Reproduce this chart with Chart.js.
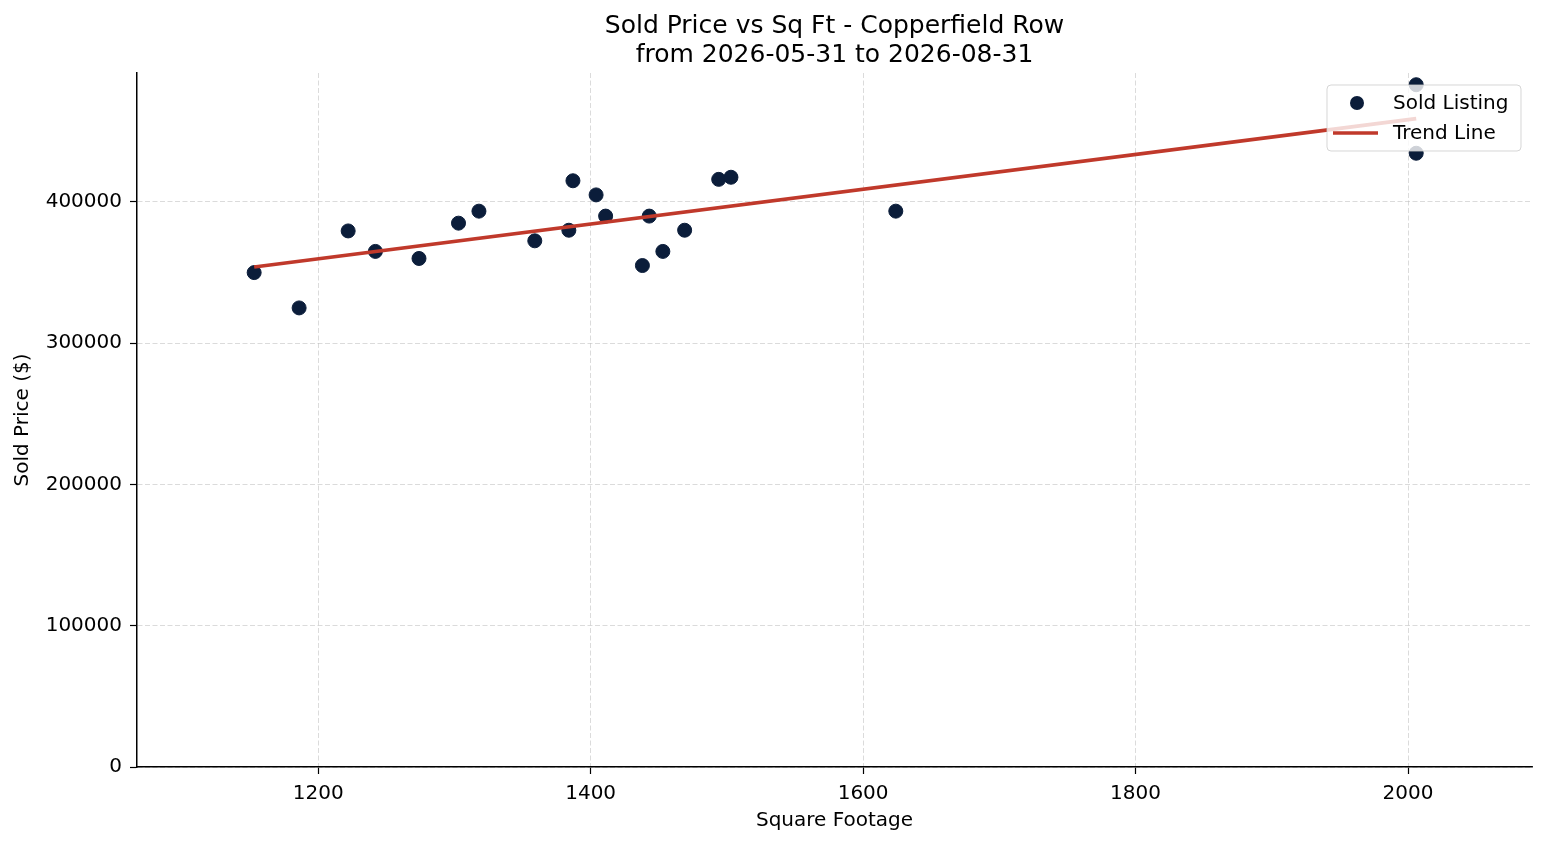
<!DOCTYPE html>
<html>
<head>
<meta charset="utf-8">
<title>Sold Price vs Sq Ft - Copperfield Row</title>
<script src="https://cdn.jsdelivr.net/npm/chart.js@4"></script>
<style>
  html, body { margin: 0; padding: 0; background: #fff; }
  canvas { display: block; }
</style>
</head>
<body>
<canvas id="chart" width="1547" height="845"></canvas>
<script>
'use strict';

// sold listings
const sqFootage = [1153, 1186, 1222, 1242, 1274, 1303, 1318, 1359, 1387, 1384, 1404,
                   1411, 1438, 1443, 1453, 1469, 1494, 1503, 1624, 2006, 2006];
const soldPrice = [350000, 325000, 379500, 365000, 360000, 385000, 393500, 372500, 415000, 380000, 405000,
                   390000, 355000, 390000, 365000, 380000, 416000, 417500, 393500, 483000, 434500];

// trend line end points
const trendSqFt = [1153, 2006];
const trendPrice = [354000, 459000];

const xTicks = [1200, 1400, 1600, 1800, 2000];
const yTicks = [0, 100000, 200000, 300000, 400000];

const FONT = "'DejaVu Sans', 'Liberation Sans', sans-serif";
const NAVY = '#0b1d3a';
const RED = '#c0392b';

// legend drawn inside the plot, top right, like matplotlib's
const insideLegend = {
  id: 'insideLegend',
  afterDatasetsDraw(chart) {
    let ctx = chart.ctx;
    let area = chart.chartArea;
    let w = 194, h = 66;
    let x = area.right - 11 - w;
    let y = area.top + 12;

    ctx.save();
    ctx.beginPath();
    ctx.roundRect(x, y, w, h, 4);
    ctx.fillStyle = 'rgba(255,255,255,0.8)';
    ctx.fill();
    ctx.strokeStyle = 'rgba(204,204,204,0.8)';
    ctx.lineWidth = 1;
    ctx.stroke();

    ctx.font = '20px ' + FONT;
    ctx.fillStyle = '#000';
    ctx.textBaseline = 'middle';
    chart.data.datasets.forEach(function(ds, i) {
      let cy = y + 18 + i * 30;
      if (ds.showLine) {
        ctx.beginPath();
        ctx.moveTo(x + 6, cy);
        ctx.lineTo(x + 51, cy);
        ctx.strokeStyle = ds.borderColor;
        ctx.lineWidth = ds.borderWidth;
        ctx.stroke();
      } else {
        ctx.beginPath();
        ctx.arc(x + 30, cy, 7, 0, Math.PI * 2);
        ctx.fillStyle = ds.backgroundColor;
        ctx.fill();
      }
      ctx.fillStyle = '#000';
      ctx.fillText(ds.label, x + 66, cy + 1);
    });
    ctx.restore();
  }
};

// v4: grid dashes live under border.dash, tick marks stay solid
let gridStyle = {
  color: 'rgba(190,190,190,0.7)',
  lineWidth: 0.8,
  tickColor: '#000',
  tickLength: 7,
  tickBorderDash: [],
  tickWidth: 1.2
};
let borderStyle = { display: true, color: '#000', width: 1.5, dash: [5, 2.5] };

let chartData = {
  datasets: [{
    label: 'Sold Listing',
    data: sqFootage.map((s, i) => ({ x: s, y: soldPrice[i] })),
    backgroundColor: NAVY,
    borderColor: NAVY,
    pointRadius: 7,
    pointHoverRadius: 7,
    showLine: false,
    order: 1
  },
  {
    label: 'Trend Line',
    data: trendSqFt.map((s, i) => ({ x: s, y: trendPrice[i] })),
    borderColor: RED,
    backgroundColor: RED,
    borderWidth: 3.6,
    pointRadius: 0,
    showLine: true,
    order: 0
  }]
};

let chartConfig = {
  type: 'scatter',
  data: chartData,
  options: {
    responsive: false,
    devicePixelRatio: 1,
    animation: false,
    layout: { padding: { left: 0, right: 15, top: 0, bottom: 0 } },
    plugins: {
      legend: { display: false },
      tooltip: { enabled: false },
      title: {
        display: true,
        fullSize: false,
        text: ['Sold Price vs Sq Ft - Copperfield Row', 'from 2026-05-31 to 2026-08-31'],
        color: '#000',
        font: { family: FONT, size: 25, weight: 'normal', lineHeight: 1.15 },
        padding: { top: 12.5, bottom: 3 }
      }
    },
    scales: {
      x: {
        type: 'linear',
        min: 1067,
        max: 2091,
        afterFit: function(scale) { scale.height = 78; },
        afterBuildTicks: function(scale) { scale.ticks = xTicks.map(v => ({ value: v })); },
        grid: gridStyle,
        border: borderStyle,
        ticks: {
          color: '#000',
          font: { family: FONT, size: 20 },
          padding: 8,
          maxRotation: 0,
          callback: v => String(v)
        },
        title: {
          display: true,
          text: 'Square Footage',
          color: '#000',
          font: { family: FONT, size: 20 },
          padding: { top: 0, bottom: 12 }
        }
      },
      y: {
        type: 'linear',
        min: 0,
        max: 491300,
        afterFit: function(scale) { scale.width = 137; },
        afterBuildTicks: function(scale) { scale.ticks = yTicks.map(v => ({ value: v })); },
        grid: gridStyle,
        border: borderStyle,
        ticks: {
          color: '#000',
          font: { family: FONT, size: 20 },
          padding: 8,
          callback: v => String(v)
        },
        title: {
          display: true,
          text: 'Sold Price ($)',
          color: '#000',
          font: { family: FONT, size: 20 },
          padding: { top: 11, bottom: 0 }
        }
      }
    }
  },
  plugins: [insideLegend]
};

let myChart = new Chart(document.getElementById('chart'), chartConfig);
</script>
</body>
</html>
